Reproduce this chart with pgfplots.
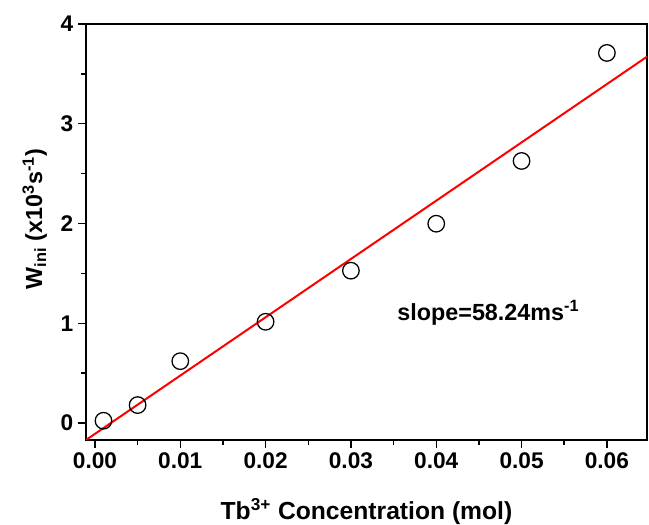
\documentclass[border=0pt]{standalone}
\usepackage{fontspec}
\setmainfont{Liberation Sans}
\usepackage{pgfplots}
\pgfplotsset{compat=1.18}
\begin{document}
\begin{tikzpicture}
\begin{axis}[
  scale only axis,
  width=420.75pt, height=312pt,
  xmin=-0.00105, xmax=0.0647,
  ymin=-0.17, ymax=4,
  xtick={0,0.01,0.02,0.03,0.04,0.05,0.06},
  xticklabels={0.00,0.01,0.02,0.03,0.04,0.05,0.06},
  scaled x ticks=false,
  ytick={0,1,2,3,4},
  minor xtick={0.005,0.015,0.025,0.035,0.045,0.055},
  minor ytick={0.5,1.5,2.5,3.5},
  tick align=outside,
  xtick pos=bottom, ytick pos=left,
  major tick length=6pt, minor tick length=3.5pt,
  axis line style={line width=1.1pt},
  every tick/.style={black,line width=1.1pt},
  /pgf/number format/assume math mode=true,
  tick label style={font=\fontsize{17}{20}\selectfont\bfseries},
  xlabel={\textbf{Tb\textsuperscript{3+} Concentration (mol)}},
  ylabel={\textbf{W\textsubscript{ini} (x10\textsuperscript{3}s\textsuperscript{-1})}},
  xlabel style={font=\fontsize{18.5}{22}\selectfont\bfseries, at={(axis description cs:0.5,-0.19)}, anchor=base},
  ylabel style={font=\fontsize{17.5}{21}\selectfont\bfseries, at={(axis description cs:-0.078,0.531)}, anchor=base},
  clip=true,
]
\addplot[red, line width=1.5pt, no marks] coordinates {(-0.00105,-0.17) (0.0647,3.672)};
\addplot[only marks, mark=o, mark size=6.2pt, mark options={black, line width=0.95pt}] coordinates {
(0.001,0.023) (0.005,0.18) (0.01,0.62) (0.02,1.015) (0.03,1.527) (0.04,1.998) (0.05,2.627) (0.06,3.71)};
\node[anchor=base west, font=\fontsize{17.5}{21}\selectfont\bfseries] at (axis cs:0.0349,1.03) {slope=58.24ms\textsuperscript{-1}};
\coordinate (bl) at (rel axis cs:-0.1533,-0.2043);
\coordinate (tr) at (rel axis cs:1.0036,1.0577);
\end{axis}
\pgfresetboundingbox
\path[use as bounding box] (bl) rectangle (tr);
\end{tikzpicture}
\end{document}
